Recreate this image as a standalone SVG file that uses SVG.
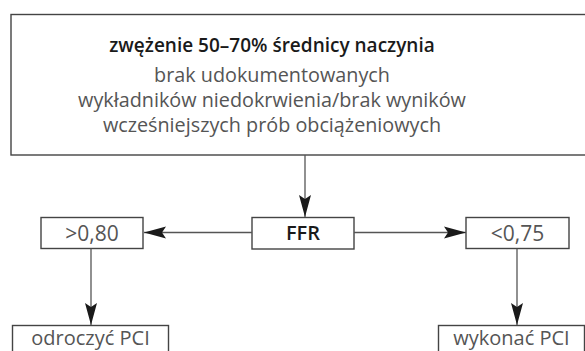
<svg xmlns="http://www.w3.org/2000/svg" width="585" height="351" viewBox="0 0 585 351">
<style>
.box{fill:#fff;stroke:#444;stroke-width:1.4}
.line{stroke:#555;stroke-width:1.3;fill:none}
.t{font-family:"Open Sans","Noto Sans",sans-serif;text-anchor:middle}
.h{font-size:19px;font-weight:600;fill:#1a1a1a}
.g{font-size:19.8px;fill:#555}
.s{font-size:21px;fill:#555}
.b{font-size:20px;fill:#555}
.f{font-size:20px;font-weight:600;fill:#1a1a1a}
</style>
<defs>
<marker id="ah" markerUnits="userSpaceOnUse" markerWidth="23" markerHeight="13" refX="22" refY="6.5" orient="auto">
<path d="M0,0.5 L22,6.5 L0,12.5 L4,6.5 Z" fill="#1a1a1a"/>
</marker>
</defs>
<rect width="585" height="351" fill="#fff"/>
<g id="top">
<rect class="box" x="11" y="14.5" width="590" height="140.5"/>
<text class="t h" x="272" y="52">zwężenie 50–70% średnicy naczynia</text>
<text class="t g" x="272" y="82">brak udokumentowanych</text>
<text class="t g" x="272" y="107">wykładników niedokrwienia/brak wyników</text>
<text class="t g" x="272" y="132">wcześniejszych prób obciążeniowych</text>
</g>
<g id="ffr">
<rect class="box" x="252" y="217.5" width="102" height="31.5"/>
<text class="t f" x="303" y="240">FFR</text>
</g>
<g id="gt">
<rect class="box" x="41" y="217.5" width="102" height="31"/>
<text class="t s" x="92" y="240.5">&gt;0,80</text>
</g>
<g id="lt">
<rect class="box" x="466" y="217.5" width="103" height="31"/>
<text class="t s" x="517.5" y="240.5">&lt;0,75</text>
</g>
<g id="defer">
<rect class="box" x="12.5" y="325.5" width="156" height="40"/>
<text class="t b" x="90.5" y="345">odroczyć PCI</text>
</g>
<g id="perform">
<rect class="box" x="438.5" y="325.5" width="146" height="40"/>
<text class="t b" x="511.5" y="345">wykonać PCI</text>
</g>
<g id="connectors">
<line class="line" x1="305" y1="155" x2="305" y2="217" marker-end="url(#ah)"/>
<line class="line" x1="252" y1="232.5" x2="144" y2="232.5" marker-end="url(#ah)"/>
<line class="line" x1="354" y1="232.5" x2="466" y2="232.5" marker-end="url(#ah)"/>
<line class="line" x1="91" y1="248.5" x2="91" y2="325" marker-end="url(#ah)"/>
<line class="line" x1="517" y1="248.5" x2="517" y2="325" marker-end="url(#ah)"/>
</g>
</svg>
